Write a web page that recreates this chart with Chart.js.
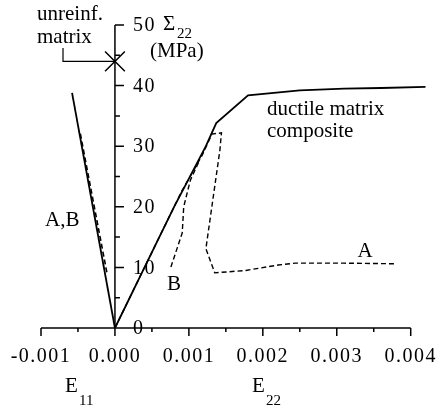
<!DOCTYPE html>
<html>
<head>
<meta charset="utf-8">
<script src="https://cdn.jsdelivr.net/npm/chart.js@4.4.1/dist/chart.umd.min.js"></script>
<style>
  html, body { margin: 0; padding: 0; background: #fff; }
  #wrap { width: 441px; height: 407px; position: relative; }
</style>
</head>
<body>
<div id="wrap"><canvas id="stressChart"></canvas></div>
<script>
// axis ticks
const xTickValues = [-0.001, 0, 0.001, 0.002, 0.003, 0.004];
const xTickLabels = ["-0.001", "0.000", "0.001", "0.002", "0.003", "0.004"];
const yTickValues = [0, 10, 20, 30, 40, 50];
const yTickLabels = ["0", "10", "20", "30", "40", "50"];

// ductile matrix composite, E22 vs Sigma22
const compositeStrain = [0, 0.0004, 0.0008, 0.00123, 0.00137, 0.0018, 0.0025, 0.0031, 0.0036, 0.0042];
const compositeStress = [0, 10, 20, 30, 33.8, 38.4, 39.2, 39.5, 39.6, 39.8];

// curve A (E22)
const curveAStrain = [0, 0.0009, 0.00118, 0.00131, 0.00144, 0.00142, 0.00123, 0.00135, 0.00177, 0.00221, 0.00244, 0.0031, 0.00381];
const curveAStress = [0, 22.5, 28.5, 32, 32.2, 29.4, 13.1, 9.1, 9.5, 10.4, 10.7, 10.7, 10.6];

// curve B (E22)
const curveBStrain = [0.00113, 0.00102, 0.00093, 0.00091, 0.00075];
const curveBStress = [27.3, 24.4, 20, 15.7, 9.8];

// lateral strain E11, composite and A,B
const lateralStrain = [0, -0.00058];
const lateralStress = [0, 38.8];
const lateralABStrain = [-0.00011, -0.000475];
const lateralABStress = [9.2, 32.5];

// unreinforced matrix failure
const matrixStrain = [0];
const matrixStress = [44];

function toPoints(xs, ys) {
  return xs.map((x, i) => ({ x: x, y: ys[i] }));
}

const SERIF = "'Liberation Serif', 'Times New Roman', serif";

const axesPlugin = {
  id: "customAxes",
  afterDraw(chart) {
    const ctx = chart.ctx;
    const xs = chart.scales.x;
    const ys = chart.scales.y;
    const x0 = xs.getPixelForValue(0);
    const y0 = ys.getPixelForValue(0);

    ctx.save();
    ctx.strokeStyle = "#000";
    ctx.fillStyle = "#000";
    ctx.lineWidth = 1.5;

    // x axis
    ctx.beginPath();
    ctx.moveTo(xs.getPixelForValue(xTickValues[0]), y0);
    ctx.lineTo(xs.getPixelForValue(xTickValues[xTickValues.length - 1]), y0);
    xTickValues.forEach((v, i) => {
      const px = xs.getPixelForValue(v);
      ctx.moveTo(px, y0);
      ctx.lineTo(px, y0 + 8);
      if (i < xTickValues.length - 1) {
        const mx = xs.getPixelForValue((v + xTickValues[i + 1]) / 2);
        ctx.moveTo(mx, y0);
        ctx.lineTo(mx, y0 + 4);
      }
    });
    // y axis
    ctx.moveTo(x0, y0);
    ctx.lineTo(x0, ys.getPixelForValue(yTickValues[yTickValues.length - 1]));
    yTickValues.forEach((v, i) => {
      const py = ys.getPixelForValue(v);
      ctx.moveTo(x0, py);
      ctx.lineTo(x0 + 9, py);
      if (i < yTickValues.length - 1) {
        const my = ys.getPixelForValue((v + yTickValues[i + 1]) / 2);
        ctx.moveTo(x0, my);
        ctx.lineTo(x0 + 5, my);
      }
    });
    ctx.stroke();

    // tick labels
    ctx.font = "20px " + SERIF;
    if ("letterSpacing" in ctx) ctx.letterSpacing = "1.5px";
    ctx.textAlign = "center";
    ctx.textBaseline = "alphabetic";
    xTickValues.forEach((v, i) => {
      ctx.fillText(xTickLabels[i], xs.getPixelForValue(v), y0 + 34);
    });
    ctx.textAlign = "left";
    ctx.textBaseline = "middle";
    yTickValues.forEach((v, i) => {
      ctx.fillText(yTickLabels[i], x0 + 18, ys.getPixelForValue(v) + 1);
    });
    if ("letterSpacing" in ctx) ctx.letterSpacing = "0px";

    // axis titles
    ctx.textBaseline = "alphabetic";
    ctx.font = "21px " + SERIF;
    ctx.fillText("\u03A3", 163, 30);
    ctx.fillText("(MPa)", 150, 57);
    ctx.fillText("E", 65, 392);
    ctx.fillText("E", 252, 392);
    ctx.font = "15px " + SERIF;
    ctx.fillText("22", 177, 38);
    ctx.fillText("11", 79, 405);
    ctx.fillText("22", 266, 405);

    // annotations
    ctx.font = "21px " + SERIF;
    ctx.fillText("unreinf.", 37, 20);
    ctx.fillText("matrix", 37, 43);
    ctx.fillText("ductile matrix", 267, 115);
    ctx.fillText("composite", 267, 137);
    ctx.fillText("A,B", 45, 226);
    ctx.textAlign = "center";
    ctx.fillText("A", 365, 257);
    ctx.fillText("B", 174, 290);

    // leader to matrix point
    const mx = xs.getPixelForValue(matrixStrain[0]);
    const my = ys.getPixelForValue(matrixStress[0]);
    ctx.lineWidth = 1.2;
    ctx.beginPath();
    ctx.moveTo(63, 48);
    ctx.lineTo(63, my);
    ctx.lineTo(mx, my);
    ctx.stroke();
    ctx.restore();
  }
};

const ctx = document.getElementById("stressChart").getContext("2d");
const stressChart = new Chart(ctx, {
  type: "scatter",
  data: {
    datasets: [
      {
        label: "ductile matrix composite",
        data: toPoints(compositeStrain, compositeStress),
        showLine: true,
        borderColor: "#000",
        borderWidth: 1.8,
        pointRadius: 0,
        tension: 0
      },
      {
        label: "A",
        data: toPoints(curveAStrain, curveAStress),
        showLine: true,
        borderColor: "#000",
        borderWidth: 1.4,
        borderDash: [5, 3],
        pointRadius: 0,
        tension: 0
      },
      {
        label: "B",
        data: toPoints(curveBStrain, curveBStress),
        showLine: true,
        borderColor: "#000",
        borderWidth: 1.4,
        borderDash: [5, 3],
        pointRadius: 0,
        tension: 0
      },
      {
        label: "E11 composite",
        data: toPoints(lateralStrain, lateralStress),
        showLine: true,
        borderColor: "#000",
        borderWidth: 1.8,
        pointRadius: 0,
        tension: 0
      },
      {
        label: "E11 A,B",
        data: toPoints(lateralABStrain, lateralABStress),
        showLine: true,
        borderColor: "#000",
        borderWidth: 1.6,
        borderDash: [5, 3],
        pointRadius: 0,
        tension: 0
      },
      {
        label: "unreinf. matrix",
        data: toPoints(matrixStrain, matrixStress),
        showLine: false,
        pointStyle: "crossRot",
        pointRadius: 14,
        pointBorderWidth: 1.5,
        pointBorderColor: "#000",
        pointBackgroundColor: "#000"
      }
    ]
  },
  options: {
    responsive: true,
    maintainAspectRatio: false,
    animation: false,
    clip: false,
    layout: { padding: { left: 41, right: 10, top: 25, bottom: 79 } },
    scales: {
      x: { type: "linear", min: -0.001, max: 0.0042, display: false },
      y: { type: "linear", min: 0, max: 50, display: false }
    },
    plugins: {
      legend: { display: false },
      tooltip: { enabled: false }
    }
  },
  plugins: [axesPlugin]
});
</script>
</body>
</html>
